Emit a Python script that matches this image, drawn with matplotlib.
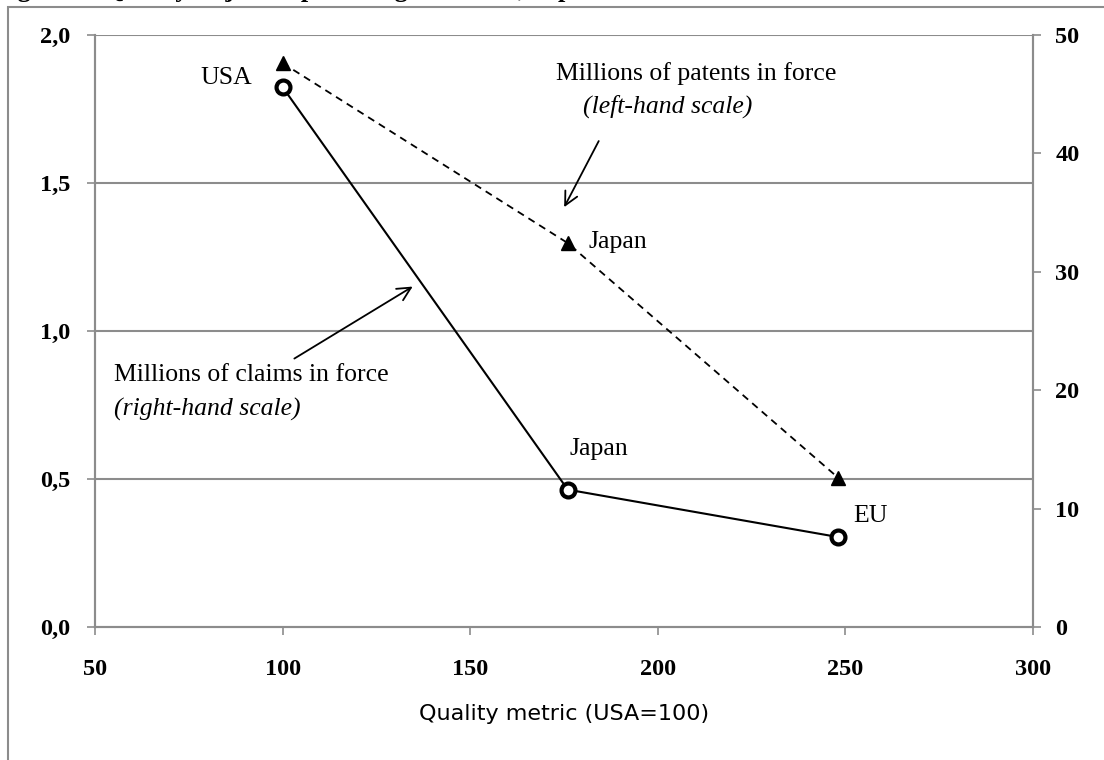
import matplotlib.pyplot as plt
from matplotlib.patches import Rectangle

# Data
regions = ['USA', 'Japan', 'EU']
quality = [100, 176, 248]                 # Quality metric (USA=100)
patents_millions = [1.905, 1.297, 0.505]  # left-hand scale
claims_millions = [45.6, 11.6, 7.6]       # right-hand scale

x_ticks = [50, 100, 150, 200, 250, 300]
left_ticks = [0.0, 0.5, 1.0, 1.5, 2.0]
left_labels = ['0,0', '0,5', '1,0', '1,5', '2,0']
right_ticks = [0, 10, 20, 30, 40, 50]

serif = ['Liberation Serif', 'DejaVu Serif']
grey = '#8c8c8c'

fig = plt.figure(figsize=(11.04, 7.6), dpi=100)

# outer frame and caption (cut off at the top, as in the source)
fig.patches.append(Rectangle((8 / 1104, -0.05), 1.2, (760 - 7) / 760 + 0.05,
                             transform=fig.transFigure, fill=False,
                             edgecolor=grey, linewidth=1.5))
fig.text(-0.005, 1.0 + 3.5 / 760, 'Figure 2: Quality-adjusted patenting in the US, Japan and EU',
         family=serif, fontsize=19, fontweight='bold', va='baseline')

ax = fig.add_axes([95 / 1104, (760 - 627) / 760, 938 / 1104, 592 / 760])
ax2 = ax.twinx()

ax.set_xlim(50, 300)
ax.set_ylim(0, 2.0)
ax2.set_ylim(0, 50)

ax.set_yticks(left_ticks)
ax.set_yticklabels(left_labels)
ax.set_xticks(x_ticks)
ax2.set_yticks(right_ticks)

for y in left_ticks[1:]:
    ax.axhline(y, color=grey, linewidth=1.5, zorder=0)

for a in (ax, ax2):
    for s in a.spines.values():
        s.set_color(grey)
        s.set_linewidth(1.5)
    a.spines['top'].set_visible(False)
    a.tick_params(colors=grey, length=6, width=1.2, labelcolor='black')

ax.tick_params(axis='x', pad=17)
ax.tick_params(axis='y', pad=12)
ax2.tick_params(axis='y', pad=10)

for lab in ax.get_xticklabels() + ax.get_yticklabels() + ax2.get_yticklabels():
    lab.set_family(serif)
    lab.set_fontweight('bold')
    lab.set_fontsize(17.5)

ax.set_xlabel('Quality metric (USA=100)', family=['DejaVu Sans'],
              fontsize=16, labelpad=17)

# series
ax.plot(quality, patents_millions, color='black', linestyle=(0, (4, 3)),
        linewidth=1.3, marker='^', markersize=10, zorder=3)
ax2.plot(quality, claims_millions, color='black', linestyle='-', linewidth=1.5,
         marker='o', markersize=10, markerfacecolor='white', markeredgewidth=3, zorder=3)

# labels
tkw = dict(family=serif, fontsize=18.5)
ax.text(92, 1.855, 'USA', ha='right', va='center', **tkw)
ax.text(181.5, 1.30, 'Japan', ha='left', va='center', **tkw)
ax2.text(176.5, 15.0, 'Japan', ha='left', va='center', **tkw)
ax2.text(252, 9.4, 'EU', ha='left', va='center', **tkw)

ax.text(173, 1.87, 'Millions of patents in force', ha='left', va='center', **tkw)
ax.text(180, 1.76, '(left-hand scale)', ha='left', va='center', style='italic', **tkw)
ax.annotate('', xy=(174.7, 1.41), xytext=(184.6, 1.65),
            arrowprops=dict(arrowstyle='->', color='black', lw=1.3, mutation_scale=24))

ax.text(55, 0.85, 'Millions of claims in force', ha='left', va='center', **tkw)
ax.text(55, 0.735, '(right-hand scale)', ha='left', va='center', style='italic', **tkw)
ax.annotate('', xy=(135.3, 1.155), xytext=(102.5, 0.902),
            arrowprops=dict(arrowstyle='->', color='black', lw=1.3, mutation_scale=24))

fig.savefig('out.png', dpi=100)
